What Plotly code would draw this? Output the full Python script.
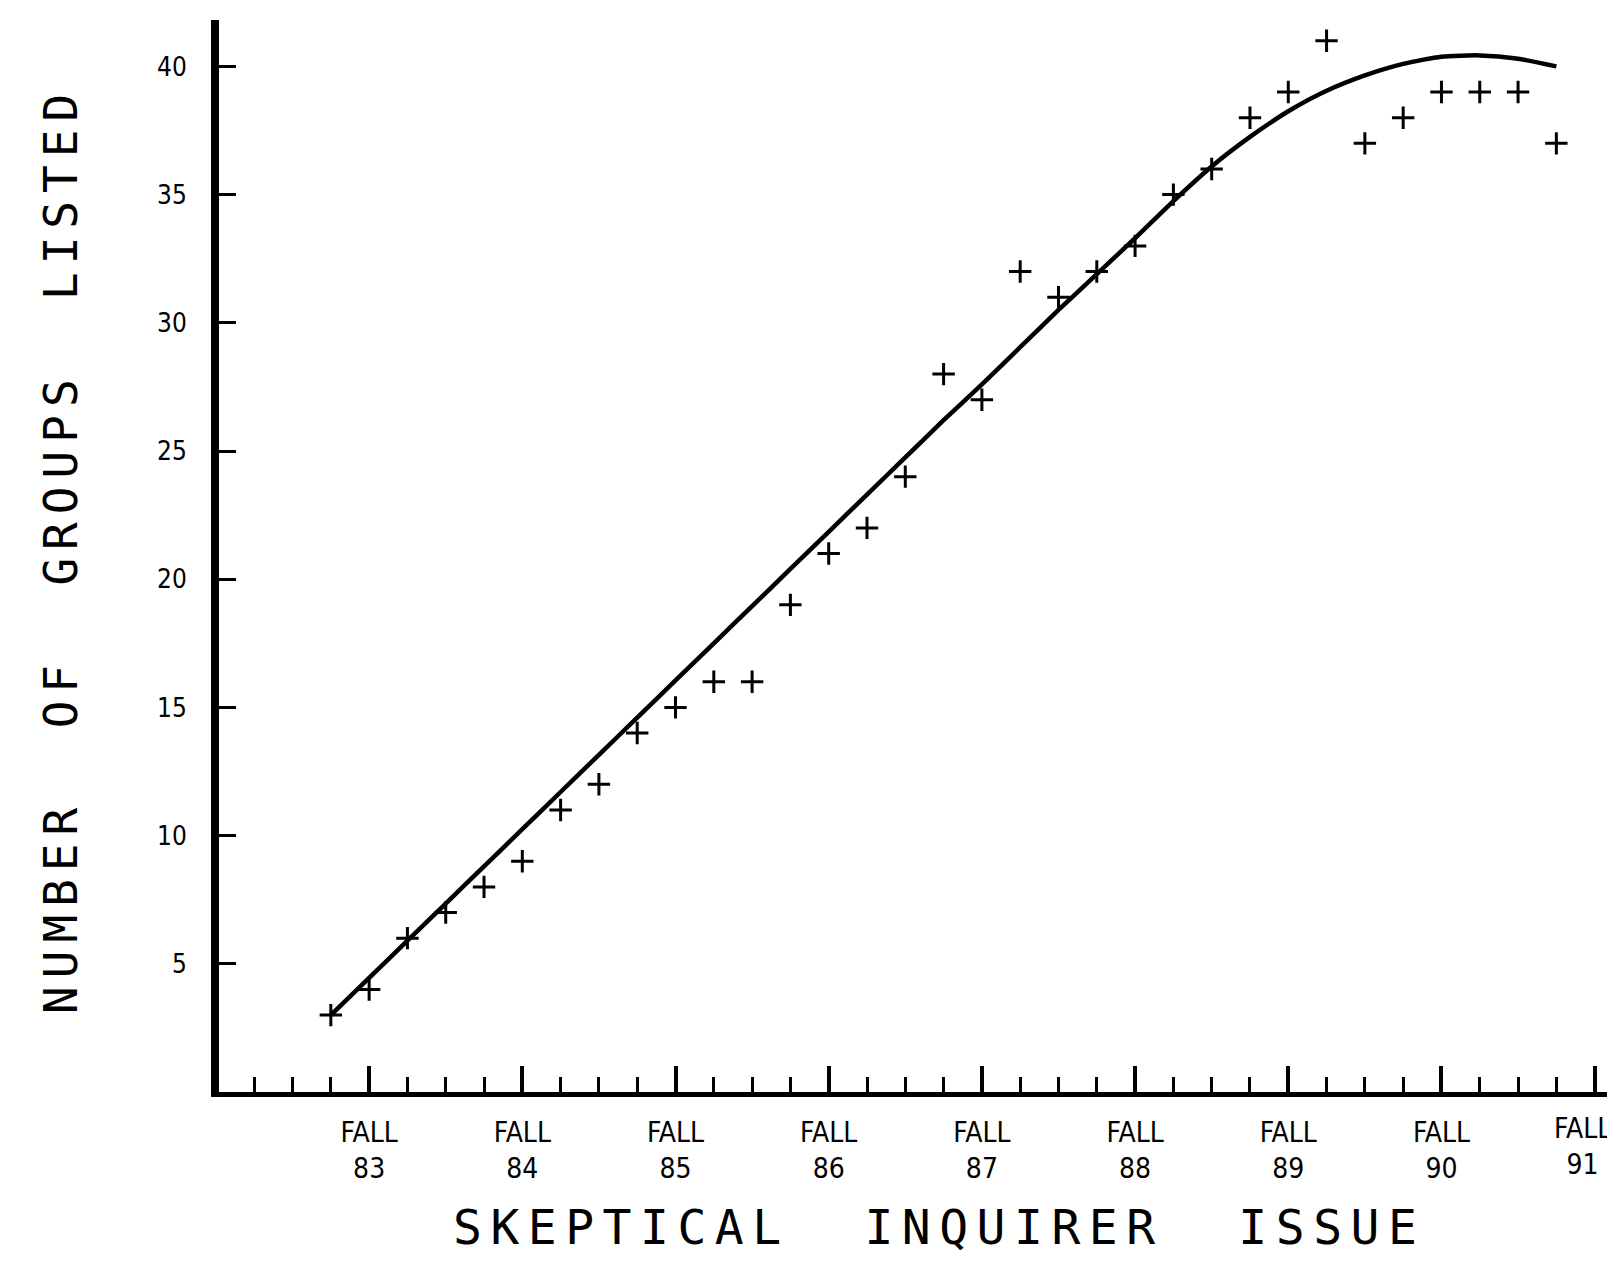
import plotly.graph_objects as go

# Issue index: 0 = Summer 1983, 1 = Fall 1983, ... 32 = Summer 1991 (quarterly issues)
issue_index = list(range(33))
groups_listed = [3, 4, 6, 7, 8, 9, 11, 12, 14, 15, 16, 16, 19, 21, 22, 24, 28, 27, 32, 31,
                 32, 33, 35, 36, 38, 39, 41, 37, 38, 39, 39, 39, 37]
# fitted trend curve at each issue
trend_values = [3.0, 4.45, 5.9, 7.35, 8.8, 10.25, 11.7, 13.15, 14.6, 16.05, 17.5, 18.95,
                20.4, 21.85, 23.3, 24.75, 26.2, 27.6, 29.05, 30.5, 31.9, 33.3, 34.75, 36.1,
                37.25, 38.25, 39.05, 39.65, 40.1, 40.38, 40.43, 40.3, 40.0]

fall_tick_index = [1, 5, 9, 13, 17, 21, 25, 29, 33]
fall_tick_labels = ["FALL<br>83", "FALL<br>84", "FALL<br>85", "FALL<br>86", "FALL<br>87",
                    "FALL<br>88", "FALL<br>89", "FALL<br>90", "FALL<br>91"]
minor_tick_index = [i for i in range(-2, 34) if i not in fall_tick_index]
y_tick_values = [5, 10, 15, 20, 25, 30, 35, 40]

x_title = "SKEPTICAL\u00a0\u00a0INQUIRER\u00a0\u00a0ISSUE"
y_title = "NUMBER\u00a0\u00a0OF\u00a0\u00a0GROUPS\u00a0\u00a0LISTED"

tick_font = "Liberation Sans Narrow, DejaVu Sans Condensed, Liberation Sans, sans-serif"
title_font = "DejaVu Sans Mono, Liberation Mono, monospace"

# the last label sits at the right page edge; draw it as an annotation nudged inside
axis_ticktext = fall_tick_labels[:-1] + [""]

fig = go.Figure()
fig.add_trace(go.Scatter(
    x=issue_index, y=trend_values, mode="lines",
    line=dict(color="black", width=4.5, shape="spline", smoothing=0.6),
    hoverinfo="skip", showlegend=False))
fig.add_trace(go.Scatter(
    x=issue_index, y=groups_listed, mode="markers",
    marker=dict(symbol="cross-thin", size=16, color="black",
                line=dict(color="black", width=3)),
    showlegend=False))

fig.update_layout(
    width=1615, height=1274,
    margin=dict(l=211, r=0, t=12, b=190),
    paper_bgcolor="white", plot_bgcolor="white",
    showlegend=False,
    xaxis=dict(
        range=[-2.92, 33.74], showline=True, linecolor="black", linewidth=5,
        showgrid=False, zeroline=False,
        tickmode="array", tickvals=fall_tick_index, ticktext=axis_ticktext,
        ticks="inside", ticklen=26, tickwidth=4, tickcolor="black",
        minor=dict(tickmode="array", tickvals=minor_tick_index, ticks="inside",
                   ticklen=15, tickwidth=3, tickcolor="black", showgrid=False),
        tickfont=dict(family=tick_font, size=28, color="black"),
        ticklabelstandoff=11,
    ),
    yaxis=dict(
        range=[0, 41.81], showline=True, linecolor="black", linewidth=8,
        showgrid=False, zeroline=False,
        tickmode="array", tickvals=y_tick_values,
        ticks="inside", ticklen=17, tickwidth=3, tickcolor="black",
        tickfont=dict(family=tick_font, size=26, color="black"),
        ticklabelstandoff=19,
    ),
    annotations=[
        dict(text=fall_tick_labels[-1], xref="x", yref="paper",
             x=fall_tick_index[-1], y=-0.017, xshift=-12,
             xanchor="center", yanchor="top", align="center", showarrow=False,
             font=dict(family=tick_font, size=28, color="black")),
        dict(text='<span style="letter-spacing:8.5px">' + x_title + '</span>',
             xref="paper", yref="paper", x=0.513, y=-0.126,
             xanchor="center", yanchor="middle", showarrow=False,
             font=dict(family=title_font, size=48, color="black")),
        dict(text='<span style="letter-spacing:8px">' + y_title + '</span>',
             xref="paper", yref="paper", x=-0.113, y=0.506,
             xanchor="center", yanchor="middle", showarrow=False, textangle=-90,
             font=dict(family=title_font, size=46, color="black")),
    ],
)

fig.write_html("out.html")
